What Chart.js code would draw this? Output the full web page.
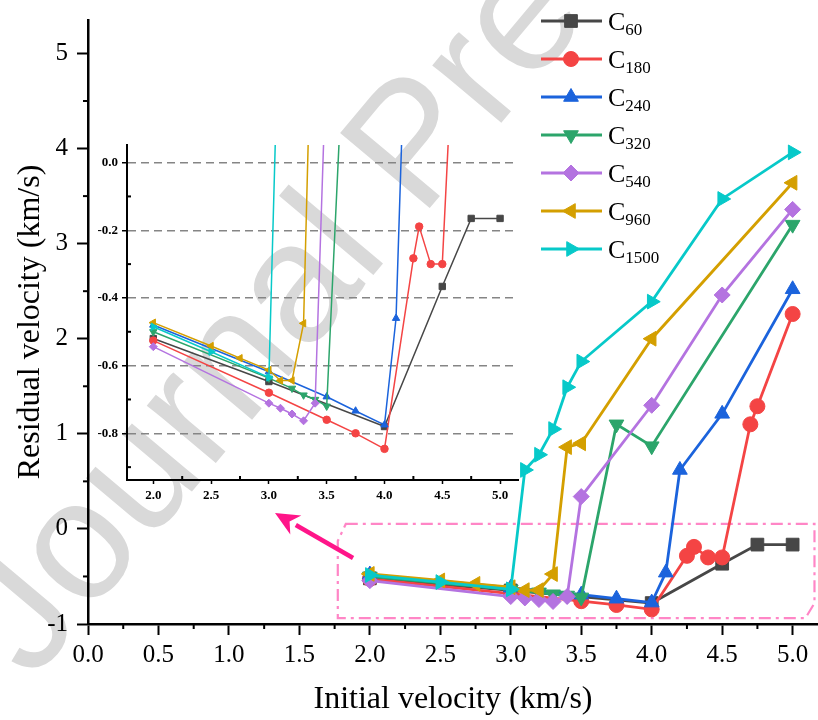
<!DOCTYPE html>
<html>
<head>
<meta charset="utf-8">
<title>Residual velocity vs initial velocity</title>
<script src="https://cdn.jsdelivr.net/npm/chart.js@4.4.1/dist/chart.umd.min.js"></script>
<style>
  html, body { margin: 0; padding: 0; background: #fff; }
  #wrap { position: relative; width: 818px; height: 720px; overflow: hidden; }
  #mainChart { position: absolute; left: 0; top: 0; }
  #insetChart { position: absolute; left: 80px; top: 130px; }
</style>
</head>
<body>
<div id="wrap">
  <canvas id="mainChart" width="818" height="720"></canvas>
  <canvas id="insetChart" width="450" height="385"></canvas>
</div>
<script>
// Series values (initial velocity -> residual velocity, km/s)
const c60X = [2.0, 3.0, 4.0, 4.5, 4.75, 5.0];
const c60Y = [-0.52, -0.647, -0.78, -0.366, -0.165, -0.165];

const c180X = [2.0, 3.0, 3.5, 3.75, 4.0, 4.25, 4.3, 4.4, 4.5, 4.7, 4.75, 5.0];
const c180Y = [-0.526, -0.68, -0.76, -0.80, -0.846, -0.283, -0.189, -0.30, -0.30, 1.10, 1.29, 2.26];

const c240X = [2.0, 3.0, 3.5, 3.75, 4.0, 4.1, 4.2, 4.5, 5.0];
const c240Y = [-0.48, -0.618, -0.692, -0.734, -0.775, -0.46, 0.62, 1.21, 2.52];

const c320X = [2.0, 3.0, 3.2, 3.3, 3.4, 3.5, 3.75, 4.0, 5.0];
const c320Y = [-0.50, -0.637, -0.667, -0.687, -0.70, -0.72, 1.10, 0.87, 3.20];

const c540X = [2.0, 3.0, 3.1, 3.2, 3.3, 3.4, 3.5, 4.0, 4.5, 5.0];
const c540Y = [-0.544, -0.711, -0.726, -0.743, -0.763, -0.711, 0.34, 1.30, 2.46, 3.36];

const c960X = [2.0, 2.5, 2.75, 3.0, 3.1, 3.2, 3.3, 3.4, 3.5, 4.0, 5.0];
const c960Y = [-0.473, -0.542, -0.578, -0.613, -0.644, -0.644, -0.475, 0.86, 0.90, 2.0, 3.64];

const c1500X = [2.0, 2.5, 3.0, 3.1, 3.2, 3.3, 3.4, 3.5, 4.0, 4.5, 5.0];
const c1500Y = [-0.485, -0.559, -0.635, 0.62, 0.78, 1.05, 1.49, 1.76, 2.39, 3.47, 3.96];

const seriesSubs = ['60', '180', '240', '320', '540', '960', '1500'];
const seriesX = [c60X, c180X, c240X, c320X, c540X, c960X, c1500X];
const seriesY = [c60Y, c180Y, c240Y, c320Y, c540Y, c960Y, c1500Y];

// tick labels
const mainXTicks = [0, 0.5, 1.0, 1.5, 2.0, 2.5, 3.0, 3.5, 4.0, 4.5, 5.0];
const mainYTicks = [-1, 0, 1, 2, 3, 4, 5];
const insetXTicks = [2.0, 2.5, 3.0, 3.5, 4.0, 4.5, 5.0];
const insetYTicks = [0, -0.2, -0.4, -0.6, -0.8];

// zoomed window shown in the inset (also the pink box on the main plot)
const insetXRange = [1.7725, 5.155];
const insetYRange = [-0.938, 0.052];

// styling
const colors = ['#474747', '#f44444', '#1b63dc', '#2ca56b', '#b473e0', '#d49f00', '#07c9c9'];
const styles = ['rect', 'circle', 'triangle', 'triangle', 'rectRot', 'triangle', 'triangle'];
const rotations = [0, 0, 0, 180, 0, 270, 90];
const radii = [9, 7.5, 8.5, 8.5, 8, 8.5, 8.5];
const serif = '"Liberation Serif", "Times New Roman", serif';

Chart.defaults.font.family = serif;

function makeDatasets(big) {
    return seriesSubs.map((sub, i) => ({
        label: 'C' + sub,
        data: seriesX[i].map((x, j) => ({ x: x, y: seriesY[i][j] })),
        borderColor: colors[i],
        backgroundColor: colors[i],
        borderWidth: big ? 2.8 : 1.5,
        pointStyle: styles[i],
        rotation: rotations[i],
        pointRadius: big ? radii[i] : radii[i] * 0.5,
        pointBorderWidth: 1,
        order: seriesSubs.length - i,
        tension: 0
    }));
}

function drawMarker(ctx, i, r, x, y) {
    if (Chart.helpers && Chart.helpers.drawPoint) {
        ctx.fillStyle = colors[i];
        ctx.strokeStyle = colors[i];
        ctx.lineWidth = 1;
        Chart.helpers.drawPoint(ctx, { pointStyle: styles[i], rotation: rotations[i], radius: r, borderWidth: 1 }, x, y);
    } else {
        ctx.fillStyle = colors[i];
        ctx.beginPath();
        ctx.arc(x, y, r, 0, Math.PI * 2);
        ctx.fill();
    }
}

// minor tick marks (Chart.js only draws one tick length)
function minorTicks(chart, axis, values, len, inward) {
    const ctx = chart.ctx;
    const s = chart.scales[axis];
    const a = chart.chartArea;
    ctx.save();
    ctx.strokeStyle = '#000';
    ctx.lineWidth = 2;
    values.forEach(v => {
        const p = s.getPixelForValue(v);
        ctx.beginPath();
        if (axis === 'x') {
            if (p < a.left || p > a.right) return;
            ctx.moveTo(p, a.bottom);
            ctx.lineTo(p, inward ? a.bottom - len : a.bottom + len);
        } else {
            if (p < a.top || p > a.bottom) return;
            ctx.moveTo(a.left, p);
            ctx.lineTo(inward ? a.left + len : a.left - len, p);
        }
        ctx.stroke();
    });
    ctx.restore();
}

const watermark = {
    id: 'watermark',
    beforeDraw(chart) {
        const ctx = chart.ctx;
        ctx.save();
        ctx.fillStyle = '#fff';
        ctx.fillRect(0, 0, chart.width, chart.height);
        ctx.translate(32, 682);
        ctx.rotate(-50 * Math.PI / 180);
        ctx.font = '170px "Liberation Sans", Arial, sans-serif';
        ctx.fillStyle = '#d9d9d9';
        ctx.fillText('Journal Pre-proof', 0, 0);
        ctx.restore();
    }
};

const zoomBox = {
    id: 'zoomBox',
    beforeDatasetsDraw(chart) {
        const ctx = chart.ctx;
        const xs = chart.scales.x, ys = chart.scales.y;
        const l = xs.getPixelForValue(insetXRange[0]);
        const r = xs.getPixelForValue(insetXRange[1]);
        const t = ys.getPixelForValue(insetYRange[1]);
        const b = ys.getPixelForValue(insetYRange[0]);
        ctx.save();
        ctx.strokeStyle = '#ff86c6';
        ctx.lineWidth = 2.2;
        ctx.setLineDash([12, 5, 3, 5]);
        ctx.beginPath();
        ctx.moveTo(l + 8, t);
        ctx.lineTo(r, t);
        ctx.lineTo(r, b - 15);
        ctx.lineTo(r - 9, b);
        ctx.lineTo(l, b);
        ctx.lineTo(l, t + 17);
        ctx.closePath();
        ctx.stroke();
        ctx.setLineDash([]);

        // arrow pointing at the inset
        const x1 = xs.getPixelForValue(1.881), y1 = ys.getPixelForValue(-0.306);
        const x2 = xs.getPixelForValue(1.327), y2 = ys.getPixelForValue(0.167);
        const ang = Math.atan2(y2 - y1, x2 - x1);
        const head = 24, half = 11;
        const bx = x2 - head * Math.cos(ang), by = y2 - head * Math.sin(ang);
        ctx.strokeStyle = '#ff1589';
        ctx.fillStyle = '#ff1589';
        ctx.lineWidth = 4.5;
        ctx.beginPath();
        ctx.moveTo(x1, y1);
        ctx.lineTo(bx, by);
        ctx.stroke();
        ctx.beginPath();
        ctx.moveTo(x2, y2);
        ctx.lineTo(bx + half * Math.sin(ang), by - half * Math.cos(ang));
        ctx.lineTo(x2 - head * 0.7 * Math.cos(ang), y2 - head * 0.7 * Math.sin(ang));
        ctx.lineTo(bx - half * Math.sin(ang), by + half * Math.cos(ang));
        ctx.closePath();
        ctx.fill();
        ctx.restore();
    }
};

const subLegend = {
    id: 'subLegend',
    afterDraw(chart) {
        const ctx = chart.ctx;
        minorTicks(chart, 'x', [0.25, 0.75, 1.25, 1.75, 2.25, 2.75, 3.25, 3.75, 4.25, 4.75], 5, false);
        minorTicks(chart, 'y', [-0.5, 0.5, 1.5, 2.5, 3.5, 4.5], 5, false);
        seriesSubs.forEach((sub, i) => {
            const cy = 21 + i * 38;
            ctx.save();
            ctx.strokeStyle = colors[i];
            ctx.lineWidth = 3;
            ctx.beginPath();
            ctx.moveTo(541, cy);
            ctx.lineTo(602, cy);
            ctx.stroke();
            drawMarker(ctx, i, radii[i], 571, cy);
            ctx.fillStyle = '#000';
            ctx.textBaseline = 'alphabetic';
            ctx.textAlign = 'left';
            ctx.font = '26px ' + serif;
            ctx.fillText('C', 608, cy + 9);
            const w = ctx.measureText('C').width;
            ctx.font = '17px ' + serif;
            ctx.fillText(sub, 608 + w, cy + 14);
            ctx.restore();
        });
    }
};

const insetTicks = {
    id: 'insetTicks',
    afterDraw(chart) {
        minorTicks(chart, 'x', [2.25, 2.75, 3.25, 3.75, 4.25, 4.75], 4, true);
        minorTicks(chart, 'y', [-0.1, -0.3, -0.5, -0.7, -0.9], 4, true);
    }
};

new Chart(document.getElementById('mainChart'), {
    type: 'line',
    data: { datasets: makeDatasets(true) },
    plugins: [watermark, zoomBox, subLegend],
    options: {
        responsive: false,
        animation: false,
        layout: { autoPadding: false, padding: { top: 20, right: 0, left: 0, bottom: 0 } },
        plugins: { legend: { display: false }, tooltip: { enabled: false } },
        scales: {
            x: {
                type: 'linear',
                min: 0,
                max: 5.18,
                afterBuildTicks: s => { s.ticks = mainXTicks.map(v => ({ value: v })); },
                afterFit: s => { s.height = 96; s.paddingLeft = 0; s.paddingRight = 0; },
                grid: { drawOnChartArea: false, tickLength: 11, tickWidth: 2, tickColor: '#000' },
                border: { color: '#000', width: 2.5 },
                ticks: {
                    color: '#000', font: { size: 25 }, padding: 5,
                    maxRotation: 0, autoSkip: false,
                    callback: v => Number(v).toFixed(1)
                },
                title: {
                    display: true, text: 'Initial velocity (km/s)', color: '#000',
                    font: { size: 32 }, padding: { top: 0, bottom: 1 }
                }
            },
            y: {
                type: 'linear',
                min: -1,
                max: 5.352,
                afterBuildTicks: s => { s.ticks = mainYTicks.map(v => ({ value: v })); },
                afterFit: s => { s.width = 88; s.paddingTop = 0; s.paddingBottom = 0; },
                grid: { drawOnChartArea: false, tickLength: 11, tickWidth: 2, tickColor: '#000' },
                border: { color: '#000', width: 2.5 },
                ticks: { color: '#000', font: { size: 25 }, padding: 9, callback: v => String(v) },
                title: {
                    display: true, text: 'Residual velocity (km/s)', color: '#000',
                    font: { size: 32 }, padding: { top: 11, bottom: 0 }
                }
            }
        }
    }
});

new Chart(document.getElementById('insetChart'), {
    type: 'line',
    data: { datasets: makeDatasets(false) },
    plugins: [insetTicks],
    options: {
        responsive: false,
        animation: false,
        layout: { autoPadding: false, padding: { top: 15, right: 12, left: 0, bottom: 0 } },
        plugins: { legend: { display: false }, tooltip: { enabled: false } },
        scales: {
            x: {
                type: 'linear',
                min: insetXRange[0],
                max: insetXRange[1],
                afterBuildTicks: s => { s.ticks = insetXTicks.map(v => ({ value: v })); },
                afterFit: s => { s.height = 35; s.paddingLeft = 0; s.paddingRight = 0; },
                grid: { drawOnChartArea: false, tickLength: 4, tickWidth: 1.5, tickColor: '#000' },
                border: { color: '#000', width: 2 },
                ticks: {
                    color: '#000', font: { size: 13, weight: 'bold' }, padding: 4,
                    maxRotation: 0, autoSkip: false,
                    callback: v => Number(v).toFixed(1)
                }
            },
            y: {
                type: 'linear',
                min: insetYRange[0],
                max: insetYRange[1],
                afterBuildTicks: s => { s.ticks = insetYTicks.map(v => ({ value: v })); },
                afterFit: s => { s.width = 47; s.paddingTop = 0; s.paddingBottom = 0; },
                grid: { color: '#858585', lineWidth: 1.5, tickLength: 5, tickWidth: 1.5, tickColor: '#000' },
                border: { color: '#000', width: 2, dash: [8, 5] },
                ticks: {
                    color: '#000', font: { size: 13, weight: 'bold' }, padding: 4,
                    callback: v => Number(v).toFixed(1)
                }
            }
        }
    }
});
</script>
</body>
</html>
